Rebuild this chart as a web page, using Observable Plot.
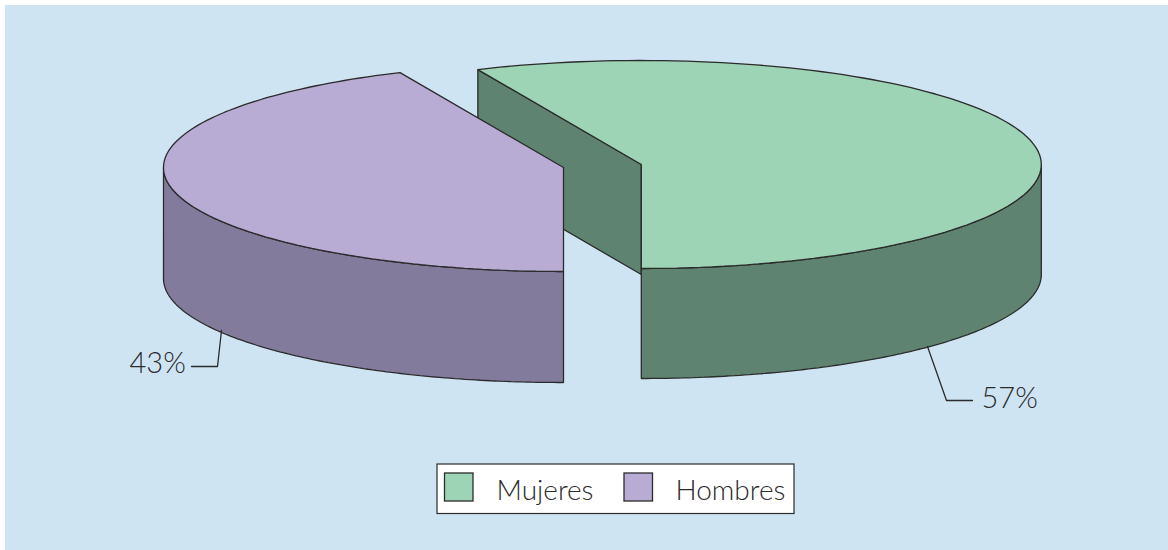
<!DOCTYPE html>
<html><head><meta charset="utf-8">
<script src="https://cdn.jsdelivr.net/npm/d3@7"></script>
<script src="https://cdn.jsdelivr.net/npm/@observablehq/plot@0.6"></script>
<style>html,body{margin:0;padding:0;background:#fff}svg{display:block}</style>
</head><body><div id="c"></div>
<script>
const categories = ["Mujeres", "Hombres"];
const shares = [56.7, 43.3];
const topColors = ["#9DD4B5", "#B9ACD4"];
const sideColors = ["#5E8471", "#837B9B"];
const centersX = [640.8, 563];
const centersY = [164, 167];
const depths = [110, 111];
const leaderX = [[927, 946, 972], [221, 217, 191]];
const leaderY = [[346, 400, 400], [330, 366, 366]];
const labelX = [981, 129];
const labelY = [398, 363];
const swatchX = [444.5, 624];
const legendTextX = [496, 675];
const rx = 400, ry = 104;
const ink = "#2b2b2b";

const rad = d => d * Math.PI / 180;
// angle measured from the front (south) of the ellipse; positive goes towards the east
const pt = (i, a, dy = 0) => ({
  x: centersX[i] + rx * Math.sin(rad(a)),
  y: centersY[i] + ry * Math.cos(rad(a)) + dy
});
const arc = (i, a0, a1, dy = 0) => d3.range(0, 121).map(k => pt(i, a0 + (a1 - a0) * k / 120, dy));
const center = (i, dy = 0) => ({x: centersX[i], y: centersY[i] + dy});
const close = p => [...p, p[0]];

const sweepM = shares[0] / 100 * 360;

// Mujeres: from the front, through the east, round the back
const mTop = close([center(0), ...arc(0, 0, sweepM)]);
const mOuter = close([...arc(0, 0, 90), ...arc(0, 90, 0, depths[0])]);
const mCut = close([pt(0, sweepM), center(0), center(0, depths[0]), pt(0, sweepM, depths[0])]);
// Hombres: from the front, through the west, round the back
const sweepH = shares[1] / 100 * 360;
const hTop = close([center(1), ...arc(1, 0, -sweepH)]);
const hOuter = close([...arc(1, 0, -90), ...arc(1, -90, 0, depths[1])]);

const poly = (p, fill) => Plot.line(p, {x: "x", y: "y", fill, stroke: ink, strokeWidth: 1.3, curve: "linear", strokeLinejoin: "miter"});
const font = {fontFamily: "Lato", fontWeight: 300, fill: "#2b2b2b", textAnchor: "start", lineAnchor: "middle"};

const leaders = [0, 1].map(i => leaderX[i].map((x, k) => ({x, y: leaderY[i][k]})));
const pctLabels = [0, 1].map(i => ({x: labelX[i], y: labelY[i], t: Math.round(shares[i]) + "%"}));
const legend = [0, 1].map(i => ({x1: swatchX[i], x2: swatchX[i] + 28.5, y1: 473, y2: 501, fill: topColors[i], tx: legendTextX[i], name: categories[i]}));

const chart = Plot.plot({
  width: 1168, height: 550,
  margin: 0,
  x: {domain: [0, 1168], range: [0, 1168], axis: null},
  y: {domain: [0, 550], range: [0, 550], axis: null},
  marks: [
    Plot.rect([{}], {x1: 5, x2: 1168, y1: 5, y2: 550, fill: "#CFE4F3"}),
    poly(mCut, sideColors[0]),
    poly(mOuter, sideColors[0]),
    poly(mTop, topColors[0]),
    poly(hOuter, sideColors[1]),
    poly(hTop, topColors[1]),
    ...leaders.map(l => Plot.line(l, {x: "x", y: "y", stroke: ink, strokeWidth: 1.3})),
    Plot.text(pctLabels, {x: "x", y: "y", text: "t", ...font, fontSize: 29}),
    Plot.rect([{}], {x1: 437, x2: 794, y1: 464, y2: 513.5, fill: "#fff", stroke: ink, strokeWidth: 1.2}),
    Plot.rect(legend, {x1: "x1", x2: "x2", y1: "y1", y2: "y2", fill: "fill", stroke: ink, strokeWidth: 1.3}),
    Plot.text(legend, {x: "tx", y: () => 491, text: "name", ...font, fontSize: 28})
  ]
});
document.getElementById("c").appendChild(chart);
</script></body></html>
